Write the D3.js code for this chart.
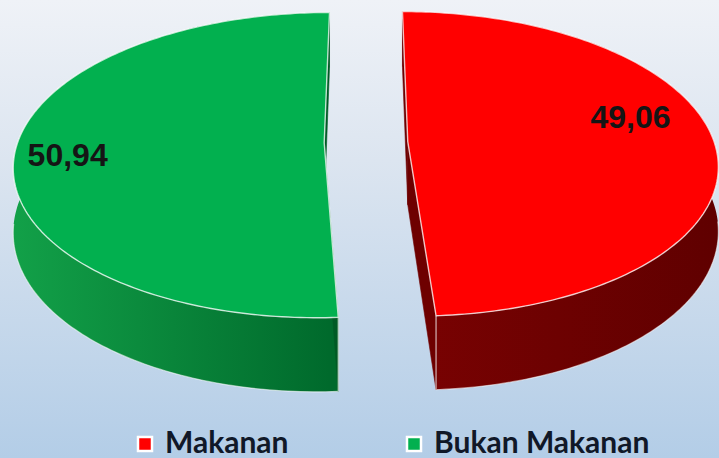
<!DOCTYPE html>
<html>
<head>
<meta charset="utf-8">
<script src="https://cdn.jsdelivr.net/npm/d3@7"></script>
<style>
  html, body { margin: 0; padding: 0; }
  body { width: 719px; height: 458px; overflow: hidden; }
</style>
</head>
<body>
<div id="chart"></div>
<script>
// data
const categories = ["Makanan", "Bukan Makanan"];
const values = [49.06, 50.94];
const valueLabels = ["49,06", "50,94"];

// colours per slice
const topColors = ["#ff0000", "#02b04f"];
const wallFront = ["#7a0202", "#006a2c"];
const wallSide = ["#600000", "#12a048"];
const cutColors = ["#6e0000", "#005a25"];

let width = 719, height = 458;

// 3d view settings
let cx = 366, cy = 142.2;
let R = 306.5, E = 41.8, H = 63.2;
let tilt = 0.4868, persp = 0.146 / 306.5;

function proj(u, v, h) {
    let p = 1 / (1 - v * persp);
    return [cx + u * p, cy + (v * tilt + h) * p];
}

let svg = d3.select("#chart")
    .append("svg")
    .attr("width", width)
    .attr("height", height);

// background
let defs = svg.append("defs");
let bg = defs.append("linearGradient")
    .attr("id", "bg")
    .attr("x1", 0).attr("y1", 0)
    .attr("x2", 0).attr("y2", 1);
bg.append("stop").attr("offset", "0%").attr("stop-color", "#eff2f7");
bg.append("stop").attr("offset", "35%").attr("stop-color", "#dce5f0");
bg.append("stop").attr("offset", "100%").attr("stop-color", "#b3cde7");

svg.append("rect")
    .attr("width", width)
    .attr("height", height)
    .attr("fill", "url(#bg)");

let pie = d3.pie().sort(null).value(d => d);
let arcs = pie(values);

let line = d3.line();
let step = Math.PI / 180;

let g = svg.append("g");

arcs.forEach((d, i) => {
    let mid = (d.startAngle + d.endAngle) / 2;
    let ex = E * Math.sin(mid), ev = -E * Math.cos(mid);

    let rim = (a, h) => proj(R * Math.sin(a) + ex, -R * Math.cos(a) + ev, h);
    let centre = h => proj(ex, ev, h);

    let angles = d3.range(d.startAngle, d.endAngle, step).concat([d.endAngle]);

    // shading of the wall runs from the front corner out to the side
    let frontA = Math.abs(Math.sin(d.startAngle)) < Math.abs(Math.sin(d.endAngle)) ? d.startAngle : d.endAngle;
    let x0 = rim(frontA, H)[0], x1 = rim(mid, 0)[0];
    let grad = defs.append("linearGradient")
        .attr("id", "wall" + i)
        .attr("gradientUnits", "userSpaceOnUse")
        .attr("x1", x0).attr("y1", 0)
        .attr("x2", x1).attr("y2", 0);
    grad.append("stop").attr("offset", "0%").attr("stop-color", wallFront[i]);
    grad.append("stop").attr("offset", "100%").attr("stop-color", wallSide[i]);

    // outer wall
    let wallPts = angles.map(a => rim(a, 0))
        .concat(angles.slice().reverse().map(a => rim(a, H)));
    g.append("path")
        .attr("d", line(wallPts) + "Z")
        .attr("fill", `url(#wall${i})`);

    // light outline along the bottom of the wall
    let front = angles.filter(a => -Math.cos(a) > 0.1);
    if (front.length > 1) {
        g.append("path")
            .attr("d", line(front.map(a => rim(a, H))))
            .attr("fill", "none")
            .attr("stroke", "#ffffff")
            .attr("stroke-opacity", 0.55)
            .attr("stroke-width", 1.2);
    }

    // cut faces
    [d.startAngle, d.endAngle].forEach(a => {
        g.append("path")
            .attr("d", line([centre(0), rim(a, 0), rim(a, H), centre(H)]) + "Z")
            .attr("fill", cutColors[i])
            .attr("stroke", cutColors[i])
            .attr("stroke-width", 0.6);
    });

    // vertical edges at the front
    [d.startAngle, d.endAngle].forEach(a => {
        if (-Math.cos(a) > 0.5) {
            g.append("path")
                .attr("d", line([rim(a, 0), rim(a, H)]))
                .attr("stroke", "#ffffff")
                .attr("stroke-opacity", 0.7)
                .attr("stroke-width", 1.2);
        }
    });

    // top face
    let topPts = [centre(0)].concat(angles.map(a => rim(a, 0)));
    g.append("path")
        .attr("d", line(topPts) + "Z")
        .attr("fill", topColors[i])
        .attr("stroke", "#ffffff")
        .attr("stroke-opacity", 0.75)
        .attr("stroke-width", 1.4)
        .attr("stroke-linejoin", "round");
});

// value labels
const labelRadius = [0.767, 0.829];
const labelShift = [-11, -3.9];
arcs.forEach((d, i) => {
    let mid = (d.startAngle + d.endAngle) / 2;
    let ex = E * Math.sin(mid), ev = -E * Math.cos(mid);
    let a = mid + labelShift[i] * Math.PI / 180;
    let r = R * labelRadius[i];
    let pos = proj(r * Math.sin(a) + ex, -r * Math.cos(a) + ev, 0);
    svg.append("text")
        .attr("x", pos[0])
        .attr("y", pos[1])
        .attr("text-anchor", "middle")
        .attr("dominant-baseline", "central")
        .attr("font-family", "Liberation Sans, Arial, sans-serif")
        .attr("font-weight", "bold")
        .attr("font-size", "32px")
        .attr("fill", "#151515")
        .text(valueLabels[i]);
});

// legend
let legendX = 138, legendStep = 269, legendY = 444;
let legend = svg.append("g");
categories.forEach((c, i) => {
    let item = legend.append("g")
        .attr("transform", `translate(${legendX + i * legendStep},${legendY})`);
    item.append("rect")
        .attr("x", 0)
        .attr("y", -7)
        .attr("width", 14)
        .attr("height", 14)
        .attr("fill", topColors[i])
        .attr("stroke", "#ffffff")
        .attr("stroke-width", 2.5);
    item.append("text")
        .attr("x", 27)
        .attr("y", 9)
        .attr("font-family", "Lato, sans-serif")
        .attr("font-weight", "bold")
        .attr("font-size", "30px")
        .attr("fill", "#101828")
        .text(c);
});
</script>
</body>
</html>
